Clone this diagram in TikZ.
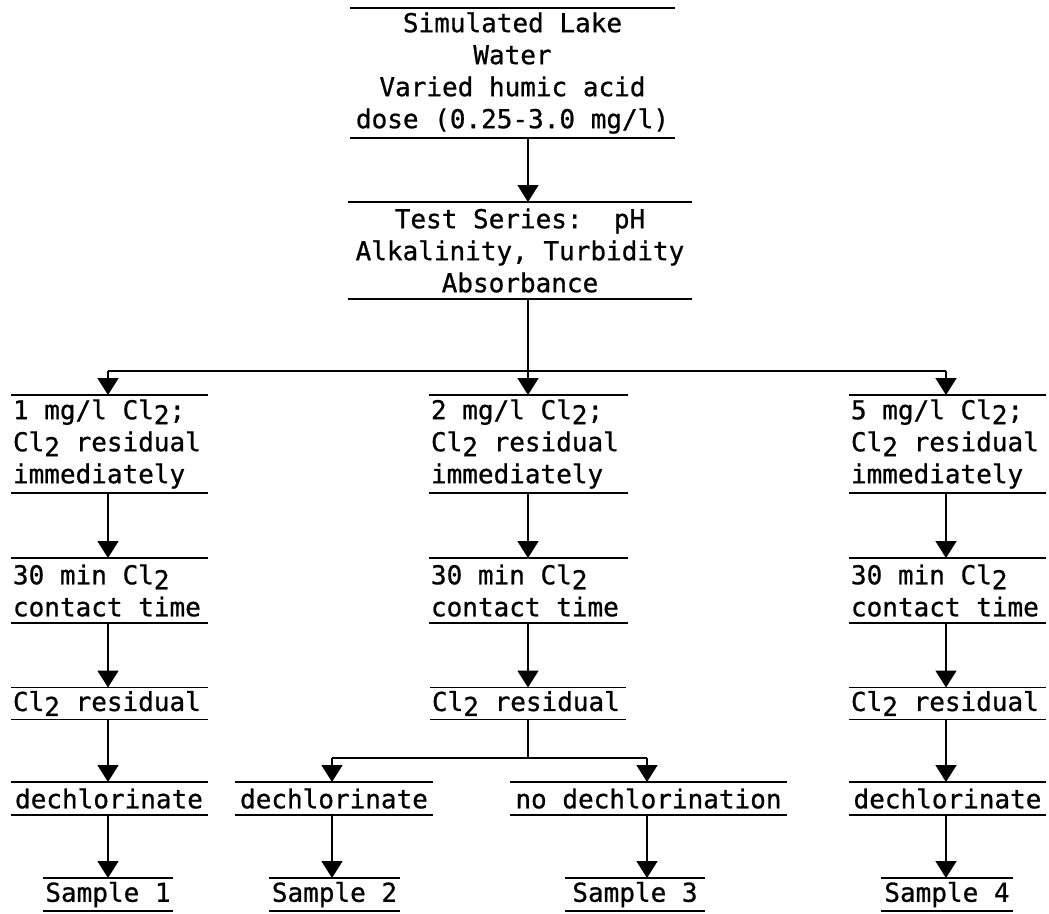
\documentclass[tikz,border=0pt]{standalone}
\usepackage{fontspec}
\setmonofont[FakeBold=0.8]{DejaVu Sans Mono}
\usetikzlibrary{arrows.meta}
% lowered "2" of Cl2, as on a typewriter
\newcommand\ltwo{\raisebox{-5pt}{2}}
\begin{document}
\begin{tikzpicture}[x=1pt,y=-1pt,
  line width=1.8pt,
  txt/.style={inner sep=0pt, outer sep=0pt,
    font=\ttfamily\fontsize{26}{32}\selectfont},
  cbox/.style={txt, align=center},
  lbox/.style={txt, align=flush left, text width=#1,
    execute at begin node={\spaceskip=\fontdimen2\font\xspaceskip=\fontdimen2\font}},
  arr/.style={-{Triangle[width=21pt,length=17pt]}, line width=1.7pt},
]
\useasboundingbox (0,0) rectangle (1049,913);

% top of the flow
\node[cbox, minimum width=325pt, minimum height=130pt] (lake) at (512.5,73)
  {Simulated Lake\\Water\\Varied humic acid\\dose (0.25-3.0 mg/l)};
\node[cbox, minimum width=344pt, minimum height=97pt] (test) at (520,250.5)
  {Test Series:~~pH\\Alkalinity, Turbidity\\Absorbance};

% chlorine doses
\node[lbox=193pt, minimum width=197pt, minimum height=98pt] (d1) at (109.5,444)
  {1 mg/l Cl\ltwo;\\Cl\ltwo\ residual\\immediately};
\node[lbox=195pt, minimum width=199pt, minimum height=98pt] (d2) at (528.5,444)
  {2 mg/l Cl\ltwo;\\Cl\ltwo\ residual\\immediately};
\node[lbox=193pt, minimum width=197pt, minimum height=98pt] (d5) at (947.5,444)
  {5 mg/l Cl\ltwo;\\Cl\ltwo\ residual\\immediately};

% contact time
\node[lbox=193pt, minimum width=197pt, minimum height=65pt] (c1) at (109.5,590.5)
  {30 min Cl\ltwo\\contact time};
\node[lbox=195pt, minimum width=199pt, minimum height=65pt] (c2) at (528.5,590.5)
  {30 min Cl\ltwo\\contact time};
\node[lbox=193pt, minimum width=197pt, minimum height=65pt] (c5) at (947.5,590.5)
  {30 min Cl\ltwo\\contact time};

% residual
\node[lbox=193pt, minimum width=197pt, minimum height=32pt] (r1) at (109.5,703.5)
  {Cl\ltwo\ residual};
\node[lbox=192pt, minimum width=196pt, minimum height=32pt] (r2) at (528,703.5)
  {Cl\ltwo\ residual};
\node[lbox=193pt, minimum width=197pt, minimum height=32pt] (r5) at (947.5,703.5)
  {Cl\ltwo\ residual};

% dechlorination step
\node[cbox, minimum width=197pt, minimum height=33pt] (x1) at (109,798.5) {dechlorinate};
\node[cbox, minimum width=198pt, minimum height=33pt] (x2) at (334,798.5) {dechlorinate};
\node[cbox, minimum width=277pt, minimum height=33pt] (x3) at (648.5,798.5) {no dechlorination};
\node[cbox, minimum width=197pt, minimum height=33pt] (x5) at (947.5,798.5) {dechlorinate};

% samples
\node[cbox, minimum width=130pt, minimum height=33pt] (s1) at (108,894.5) {Sample 1};
\node[cbox, minimum width=131pt, minimum height=33pt] (s2) at (334.5,894.5) {Sample 2};
\node[cbox, minimum width=140pt, minimum height=33pt] (s3) at (635,894.5) {Sample 3};
\node[cbox, minimum width=132pt, minimum height=33pt] (s4) at (947,894.5) {Sample 4};

% rules above and below every entry
\foreach \n in {lake,test,d1,d2,d5,c1,c2,c5,r1,r2,r5,x1,x2,x3,x5,s1,s2,s3,s4}
  \draw (\n.north west) -- (\n.north east) (\n.south west) -- (\n.south east);

% connector columns
\coordinate (kc) at (528,0);
\coordinate (kl) at (108,0);
\coordinate (kr) at (946,0);
\coordinate (ka) at (332,0);
\coordinate (kb) at (647,0);
\coordinate (split) at (528,371);
\coordinate (split2) at (528,758);

\draw[arr] (lake.south -| kc) -- (test.north -| kc);
\draw (test.south -| kc) -- (split);
\draw (split -| kl) -- (split -| kr);
\draw[arr] (split -| kl) -- (d1.north -| kl);
\draw[arr] (split) -- (d2.north -| kc);
\draw[arr] (split -| kr) -- (d5.north -| kr);

\draw[arr] (d1.south -| kl) -- (c1.north -| kl);
\draw[arr] (c1.south -| kl) -- (r1.north -| kl);
\draw[arr] (r1.south -| kl) -- (x1.north -| kl);
\draw[arr] (x1.south -| kl) -- (s1.north -| kl);

\draw[arr] (d2.south -| kc) -- (c2.north -| kc);
\draw[arr] (c2.south -| kc) -- (r2.north -| kc);
\draw (r2.south -| kc) -- (split2);
\draw (split2 -| ka) -- (split2 -| kb);
\draw[arr] (split2 -| ka) -- (x2.north -| ka);
\draw[arr] (split2 -| kb) -- (x3.north -| kb);
\draw[arr] (x2.south -| ka) -- (s2.north -| ka);
\draw[arr] (x3.south -| kb) -- (s3.north -| kb);

\draw[arr] (d5.south -| kr) -- (c5.north -| kr);
\draw[arr] (c5.south -| kr) -- (r5.north -| kr);
\draw[arr] (r5.south -| kr) -- (x5.north -| kr);
\draw[arr] (x5.south -| kr) -- (s4.north -| kr);
\end{tikzpicture}
\end{document}
